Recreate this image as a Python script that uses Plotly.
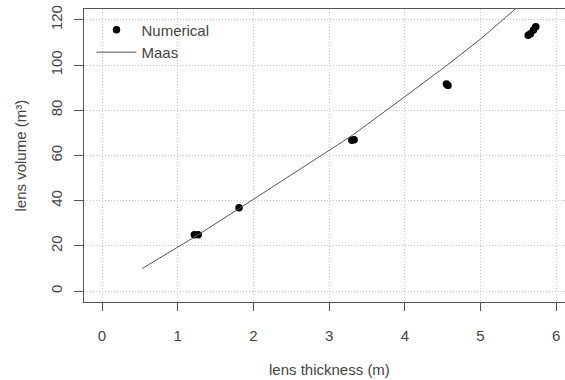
import plotly.graph_objects as go

# Data
num_x = [1.22, 1.27, 1.81, 3.30, 3.33, 4.55, 4.57, 5.63, 5.66, 5.70, 5.73]
num_y = [25.0, 25.0, 36.9, 66.8, 67.0, 91.6, 91.0, 113.2, 113.8, 115.5, 117.0]

maas_x = [0.53, 1.25, 1.81, 2.6, 3.31, 4.0, 4.56, 5.0, 5.5]
maas_y = [10.0, 24.5, 36.5, 53.5, 69.0, 86.0, 100.0, 111.5, 126.0]

x_ticks = [0, 1, 2, 3, 4, 5, 6]
y_ticks = [0, 20, 40, 60, 80, 100, 120]

FONT = "Liberation Sans, Arial, sans-serif"
TXT = "#444444"
AX = "#555555"
GRID = "#c8c8c8"

fig = go.Figure()
fig.add_trace(go.Scatter(x=num_x, y=num_y, mode="markers", name="Numerical",
                         marker=dict(color="black", size=7.5)))
fig.add_trace(go.Scatter(x=maas_x, y=maas_y, mode="lines", name="Maas",
                         line=dict(color="#555555", width=1)))

fig.update_layout(
    width=565, height=380,
    margin=dict(l=84, r=0, t=9, b=78),
    paper_bgcolor="white", plot_bgcolor="white",
    font=dict(family=FONT, size=15, color=TXT),
    showlegend=True,
    legend=dict(x=0.0156, y=0.985, xanchor="left", yanchor="top",
                bgcolor="rgba(0,0,0,0)", borderwidth=0, itemwidth=40,
                font=dict(size=15, color=TXT), tracegroupgap=0),
    xaxis=dict(range=[-0.238, 6.116], tickvals=x_ticks,
               showline=True, linecolor=AX, linewidth=1, mirror=True,
               ticks="outside", ticklen=8, tickcolor=AX,
               ticklabelstandoff=12,
               showgrid=True, gridcolor=GRID, griddash="1px,2px", gridwidth=1,
               zeroline=False, tickfont=dict(size=15, color=TXT)),
    yaxis=dict(range=[-4.8, 124.8], tickvals=y_ticks, tickangle=-90,
               showline=True, linecolor=AX, linewidth=1, mirror=False,
               ticks="outside", ticklen=9, tickcolor=AX,
               ticklabelstandoff=6,
               showgrid=True, gridcolor=GRID, griddash="1px,2px", gridwidth=1,
               zeroline=False, tickfont=dict(size=15, color=TXT)),
    annotations=[
        dict(text="lens thickness (m)", xref="x", yref="paper", x=3.0, y=-0.2287,
             xanchor="center", yanchor="middle", showarrow=False,
             font=dict(size=15, color=TXT)),
        dict(text="lens volume (m³)", xref="paper", yref="paper", x=-0.133, y=0.5,
             xanchor="center", yanchor="middle", showarrow=False, textangle=-90,
             font=dict(size=15, color=TXT)),
    ],
)

fig.write_html("out.html")
